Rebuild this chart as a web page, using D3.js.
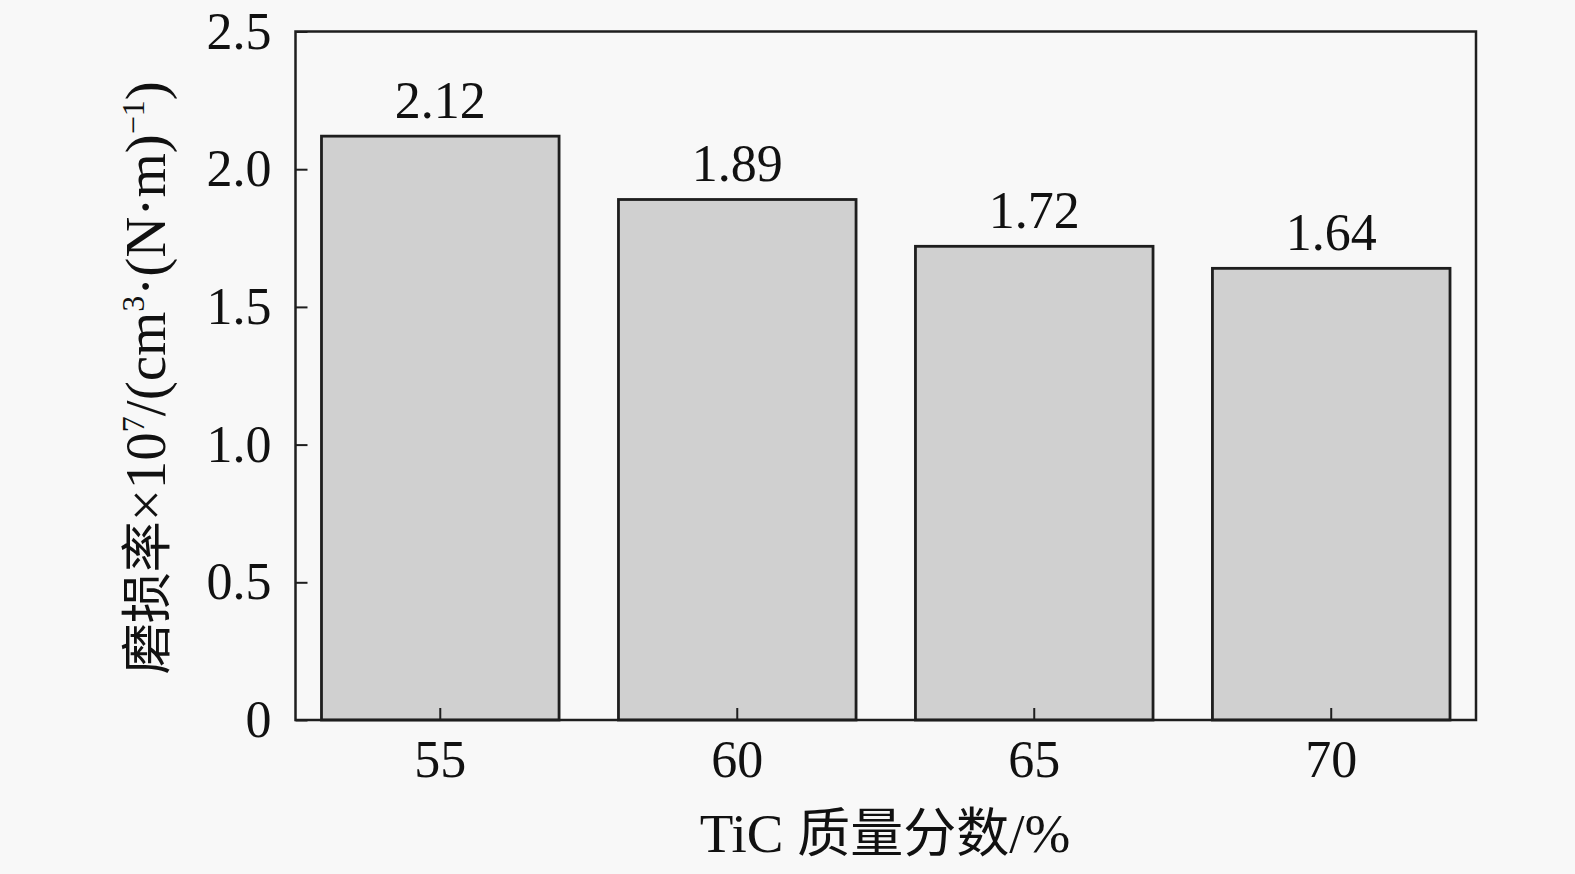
<!DOCTYPE html>
<html><head><meta charset="utf-8">
<script src="https://cdn.jsdelivr.net/npm/d3@7"></script>
<style>
html,body{margin:0;padding:0;background:#f8f8f8;}
svg{display:block;}
text{font-family:"Liberation Serif","Times New Roman",serif;fill:#111;}
</style></head><body>
<svg id="c" width="1575" height="874"></svg>
<script>
const categories = ["55","60","65","70"];
const values = [2.12, 1.89, 1.72, 1.64];
const valueLabels = ["2.12","1.89","1.72","1.64"];
const yTicks = [0, 0.5, 1.0, 1.5, 2.0, 2.5];
const yTickLabels = ["0","0.5","1.0","1.5","2.0","2.5"];

const svg = d3.select("#c");
const L = 295.5, R = 1476, T = 31.5, B = 720;
const x = d3.scaleBand().domain(categories).range([L, R]).paddingInner(0.2).paddingOuter(0.0875);
const y = d3.scaleLinear().domain([0, 2.5]).range([B, T]);
const ink = "#1e1e1e";
const NUM = 52;

// bars
svg.append("g").selectAll("rect").data(values).join("rect")
  .attr("x", (d,i) => x(categories[i]))
  .attr("y", d => y(d))
  .attr("width", x.bandwidth())
  .attr("height", d => B - y(d))
  .attr("fill", "#d0d0d0")
  .attr("stroke", ink).attr("stroke-width", 2.8);

// value labels
svg.append("g").selectAll("text").data(values).join("text")
  .attr("x", (d,i) => x(categories[i]) + x.bandwidth()/2)
  .attr("y", d => y(d) - 18)
  .attr("text-anchor", "middle")
  .attr("font-size", NUM)
  .text((d,i) => valueLabels[i]);

// frame
svg.append("rect").attr("x", L).attr("y", T).attr("width", R-L).attr("height", B-T)
  .attr("fill", "none").attr("stroke", ink).attr("stroke-width", 2.5);

// y axis
const yAxis = d3.axisLeft(y).tickValues(yTicks).tickSizeInner(-12).tickSizeOuter(0)
  .tickPadding(24).tickFormat((d,i) => yTickLabels[i]);
const gy = svg.append("g").attr("transform", `translate(${L},0)`).call(yAxis);
gy.select(".domain").remove();
gy.selectAll(".tick line").attr("stroke", ink).attr("stroke-width", 2);
gy.selectAll(".tick text").attr("font-size", NUM).attr("font-family", "Liberation Serif").attr("fill", "#111");

// x axis
const xAxis = d3.axisBottom(x).tickSizeInner(-12).tickSizeOuter(0).tickPadding(20);
const gx = svg.append("g").attr("transform", `translate(0,${B})`).call(xAxis);
gx.select(".domain").remove();
gx.selectAll(".tick line").attr("stroke", ink).attr("stroke-width", 2);
gx.selectAll(".tick text").attr("font-size", NUM).attr("font-family", "Liberation Serif").attr("fill", "#111");

// x title
svg.append("text").attr("x", 885).attr("y", 852).attr("text-anchor", "middle")
  .attr("font-size", 55)
  .html('TiC <tspan font-family="Noto Sans CJK SC" font-size="53">质量分数</tspan>/%');

// y title
const yt = svg.append("text")
  .attr("transform", `translate(165,${(T+B)/2 + 2}) rotate(-90)`)
  .attr("text-anchor", "middle").attr("font-size", 57);
yt.append("tspan").attr("font-family", "Noto Sans CJK SC").attr("font-size", 51).text("磨损率");
yt.append("tspan").text("×10");
yt.append("tspan").attr("font-size", 32).attr("dy", -21).text("7");
yt.append("tspan").attr("dy", 21).text("/(cm");
yt.append("tspan").attr("font-size", 32).attr("dy", -21).text("3");
yt.append("tspan").attr("dy", 21).text("·(N·m)");
yt.append("tspan").attr("font-size", 32).attr("dy", -21).text("−1");
yt.append("tspan").attr("dy", 21).text(")");
</script>
</body></html>
